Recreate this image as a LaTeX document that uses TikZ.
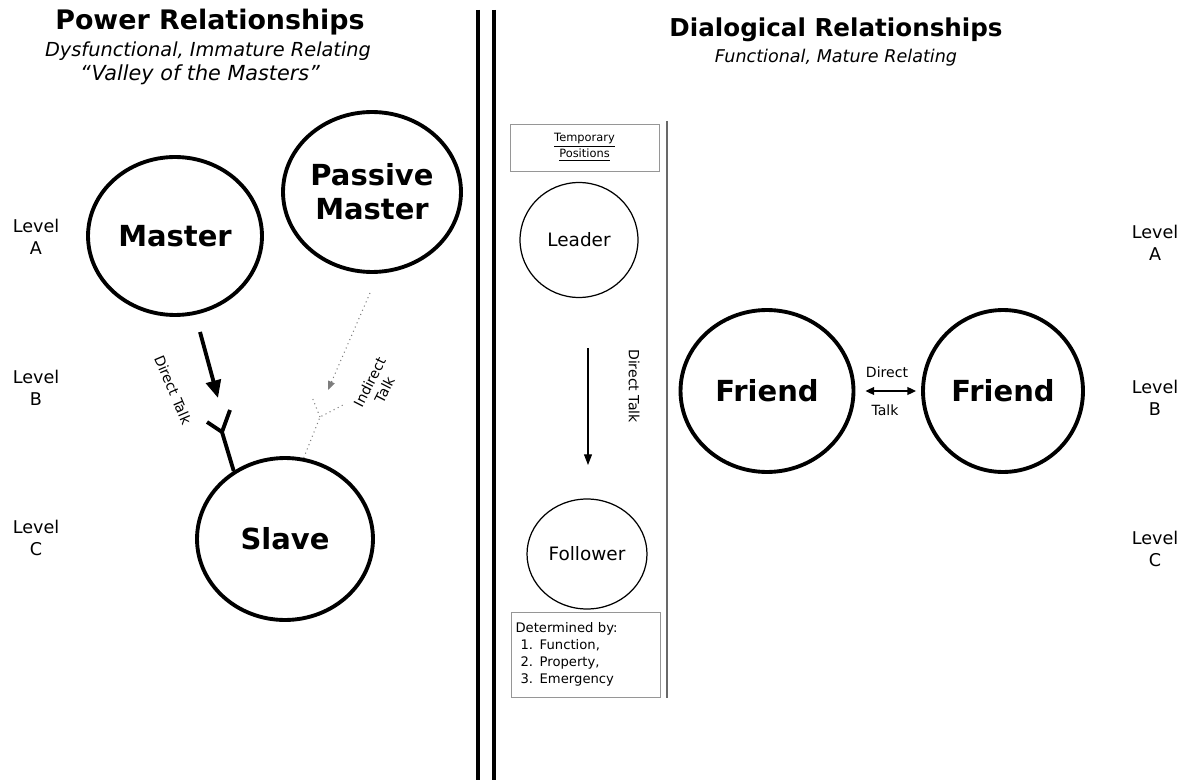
\documentclass[tikz,border=0pt]{standalone}
\usepackage{fontspec}
\setmainfont{DejaVu Sans}
\usetikzlibrary{positioning, arrows.meta, shapes.geometric}
\definecolor{boxGray}{RGB}{150,150,150}
\definecolor{lineGray}{RGB}{105,105,105}
\definecolor{dotGray}{RGB}{125,125,125}

\begin{document}
\begin{tikzpicture}[
  x=0.02cm, y=-0.02cm,
  bigc/.style={ellipse, draw, line width=2.2pt, inner sep=0pt,
    font=\fontsize{16.5}{19.5}\selectfont\bfseries, align=center},
  smallc/.style={ellipse, draw, line width=0.7pt, inner sep=0pt,
    font=\fontsize{10.5}{12}\selectfont},
  lvl/.style={align=center, font=\fontsize{10}{12.5}\selectfont},
  ttl/.style={anchor=base, font=\fontsize{14.5}{16}\selectfont\bfseries},
  sub/.style={anchor=base, font=\fontsize{10.5}{12}\selectfont\itshape},
  talk/.style={font=\fontsize{8}{9.5}\selectfont, inner sep=1pt, align=center},
  pbox/.style={draw=boxGray, line width=0.5pt},
]
  \useasboundingbox (0,0) rectangle (1182,780);

  % titles
  \node[ttl, font=\fontsize{15.3}{17}\selectfont\bfseries] (powT) at (210,30) {Power Relationships};
  \node[sub, font=\fontsize{11}{12}\selectfont\itshape] (powS) at (208,57) {Dysfunctional, Immature Relating};
  \node[sub, font=\fontsize{11.8}{13}\selectfont\itshape] (powQ) at (200,81) {“Valley of the Masters”};
  \node[ttl, font=\fontsize{14}{16}\selectfont\bfseries] (dialT) at (836,37) {Dialogical Relationships};
  \node[sub, font=\fontsize{10}{12}\selectfont\itshape] (dialS) at (836,63) {Functional, Mature Relating};

  % the wall between both sides
  \draw[line width=2.6pt] (478,10) -- (478,780);
  \draw[line width=2.6pt] (494,10) -- (494,780);

  % levels
  \node[lvl] (lvlAL) at (36,237) {Level\\A};
  \node[lvl] (lvlBL) at (36,388) {Level\\B};
  \node[lvl] (lvlCL) at (36,538) {Level\\C};
  \node[lvl] (lvlAR) at (1155,243) {Level\\A};
  \node[lvl] (lvlBR) at (1155,398) {Level\\B};
  \node[lvl] (lvlCR) at (1155,549) {Level\\C};

  % power side
  \node[bigc, minimum width=3.48cm, minimum height=3.16cm] (master) at (175,236) {Master};
  \node[bigc, minimum width=3.56cm, minimum height=3.2cm,
    label={[font=\fontsize{16.5}{19.5}\selectfont\bfseries, align=center]center:Passive\\Master}]
    (pmaster) at (372,192) {};
  \node[bigc, minimum width=3.52cm, minimum height=3.24cm] (slave) at (285,539) {Slave};

  \coordinate (dtA) at (200,332);
  \coordinate (dtB) at (218,398);
  \coordinate (dtJ) at (222,432);
  \draw[line width=2.2pt, -{Triangle[length=10pt, width=8.5pt]}] (dtA) -- (dtB);
  \draw[line width=2.2pt] (slave.127) -- (dtJ) -- (230,410);
  \draw[line width=2.2pt] (dtJ) -- (207,422);
  \node[talk, rotate=-67] (dtL) at (173,390) {Direct Talk};

  \coordinate (itA) at (370,293);
  \coordinate (itB) at (328,390);
  \coordinate (itJ) at (320,417);
  \draw[dotGray, dotted, line width=0.6pt, -{Triangle[length=5pt, width=4pt]}] (itA) -- (itB);
  \draw[dotGray, dotted, line width=0.6pt] (slave.77) -- (itJ) -- (343,405);
  \draw[dotGray, dotted, line width=0.6pt] (itJ) -- (312,397);
  \node[talk, rotate=63] (itL) at (377,386) {Indirect\\Talk};

  % dialogical side
  \node[pbox, minimum width=2.98cm, minimum height=0.94cm, align=center,
    font=\fontsize{6.5}{8}\selectfont] (temp) at (584.5,147.5)
    {\underline{Temporary}\\\underline{Positions}};
  \node[smallc, minimum width=2.36cm, minimum height=2.3cm] (leader) at (579,240) {Leader};
  \node[smallc, minimum width=2.4cm, minimum height=2.2cm] (follower) at (587,554) {Follower};
  \coordinate (lfA) at (588,348);
  \coordinate (lfB) at (588,465);
  \draw[line width=0.6pt, -{Triangle[length=6pt, width=4.5pt]}] (lfA) -- (lfB);
  \node[talk, rotate=-90] (lfL) at (634,386) {Direct Talk};
  \node[pbox, text width=2.8cm, minimum height=1.7cm, align=left, inner sep=0.09cm,
    font=\fontsize{7.5}{9.6}\selectfont] (determ) at (585.5,654.5)
    {Determined by:\\
     \hspace*{0.1cm}1. Function,\\
     \hspace*{0.1cm}2. Property,\\
     \hspace*{0.1cm}3. Emergency};
  \draw[lineGray, line width=1.2pt] (667,121) -- (667,698);

  \node[bigc, minimum width=3.46cm, minimum height=3.24cm] (friendL) at (767,391) {Friend};
  \node[bigc, minimum width=3.2cm, minimum height=3.24cm] (friendR) at (1003,391) {Friend};
  \draw[line width=0.8pt, {Triangle[length=5pt, width=4.5pt]}-{Triangle[length=5pt, width=4.5pt]},
    shorten <=0.2cm, shorten >=0.1cm] (friendL) -- (friendR);
  \node[talk] (ftU) at (887,372) {Direct};
  \node[talk] (ftD) at (885,410) {Talk};
\end{tikzpicture}
\end{document}
